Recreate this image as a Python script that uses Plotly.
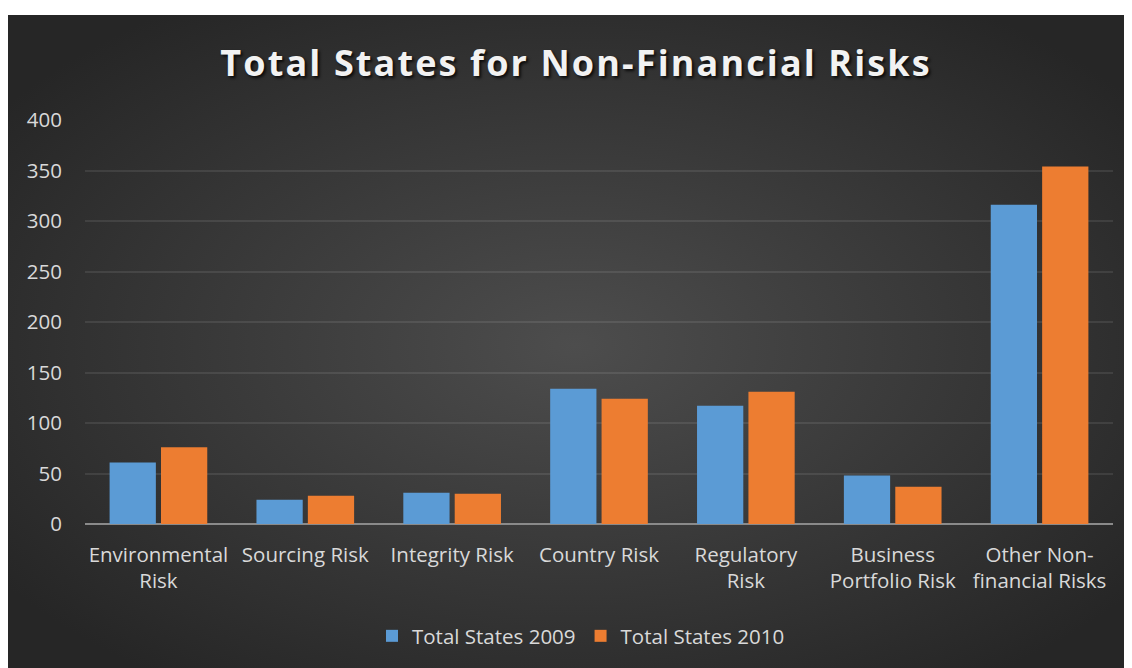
import base64
import plotly.graph_objects as go

categories = ["Environmental<br>Risk", "Sourcing Risk", "Integrity Risk", "Country Risk",
              "Regulatory<br>Risk", "Business<br>Portfolio Risk", "Other Non-<br>financial Risks"]
states_2009 = [61, 24, 31, 134, 117, 48, 316]
states_2010 = [76, 28, 30, 124, 131, 37, 354]
y_ticks = [0, 50, 100, 150, 200, 250, 300, 350, 400]
title_text = "Total States for Non-Financial Risks"

W, H = 1132, 668
L, R, T, B = 77, 1105, 112, 516  # plot area in figure pixels

def px_x(p):
    return (p - L) / (R - L)

def px_y(p):
    return (B - p) / (B - T)

svg = """<svg xmlns='http://www.w3.org/2000/svg' width='1132' height='661' viewBox='0 0 1132 661' preserveAspectRatio='none'>
<defs><radialGradient id='g' cx='0.5' cy='0.5' r='0.62'>
<stop offset='0' stop-color='#4d4d4d'/><stop offset='1' stop-color='#262626'/></radialGradient></defs>
<rect width='1132' height='661' fill='url(#g)'/></svg>"""
bg_src = "data:image/svg+xml;base64," + base64.b64encode(svg.encode()).decode()

gap = '<span style="font-size:21px">\u200a</span>'
spaced_title = gap.join(title_text)

font = "Open Sans"
fsize = 20.5
fig = go.Figure()
fig.add_trace(go.Bar(name="Total States 2009", x=categories, y=states_2009,
                     marker=dict(color="#5b9bd5", line=dict(width=0))))
fig.add_trace(go.Bar(name="Total States 2010", x=categories, y=states_2010,
                     marker=dict(color="#ed7d31", line=dict(width=0))))

fig.update_layout(
    width=W, height=H,
    margin=dict(l=L, r=W - R, t=T, b=H - B, pad=0),
    paper_bgcolor="white",
    plot_bgcolor="rgba(0,0,0,0)",
    barmode="group", bargap=0.3, bargroupgap=0.1,
    font=dict(family=font, size=fsize, color="#d9d9d9"),
    title=dict(text=spaced_title, x=567 / W, xanchor="center",
               xref="container", yref="container", y=1 - 55 / H, yanchor="middle",
               font=dict(family=font, size=36, color="#f2f2f2", weight="bold",
                         shadow="2px 2px 3px rgba(0,0,0,0.8)")),
    showlegend=True,
    legend=dict(orientation="h", x=px_x(573), xanchor="center", y=px_y(628), yanchor="middle",
                font=dict(family=font, size=fsize, color="#d9d9d9"), bgcolor="rgba(0,0,0,0)",
                traceorder="normal"),
    images=[dict(source=bg_src, xref="paper", yref="paper", x=px_x(0), y=px_y(7),
                 sizex=px_x(W) - px_x(0), sizey=px_y(7) - px_y(H), sizing="stretch",
                 xanchor="left", yanchor="top", layer="below")],
)
fig.update_xaxes(showgrid=False, showline=False, ticks="", ticklabelstandoff=16,
                 tickfont=dict(family=font, size=fsize, color="#d9d9d9"))
fig.update_yaxes(range=[0, 400], tickvals=y_ticks, showgrid=True, gridcolor="rgba(255,255,255,0.09)",
                 gridwidth=2, zeroline=True, zerolinecolor="#8a8a8a", zerolinewidth=2,
                 showline=False, ticks="", ticklabelstandoff=22,
                 tickfont=dict(family=font, size=fsize, color="#d9d9d9"))

fig.write_html("out.html")
